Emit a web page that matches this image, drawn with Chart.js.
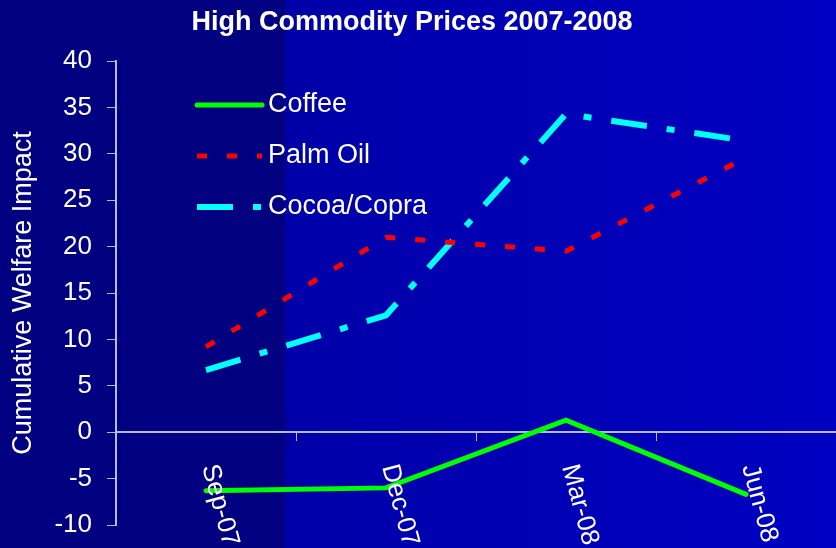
<!DOCTYPE html>
<html>
<head>
  <title>High Commodity Prices 2007-2008</title>
  <script src="https://cdn.jsdelivr.net/npm/chart.js"></script>
  <style>
    html, body { margin: 0; padding: 0; background: #000080; }
  </style>
</head>
<body>
  <canvas id="chart" width="836" height="548"></canvas>
  <script>
    // quarters and cumulative welfare impact per commodity
    const months = ['Sep-07', 'Dec-07', 'Mar-08', 'Jun-08'];
    const coffee = [-6.3, -6.0, 1.3, -6.7];
    const palmOil = [9.2, 21.0, 19.5, 29.6];
    const cocoaCopra = [6.7, 12.6, 34.3, 31.4];
    const yMin = -10, yMax = 40, yStep = 5;

    const font = "'Liberation Sans', Arial, sans-serif";
    const axisColor = '#b8b8e0';

    // two-tone blue background
    const backdrop = {
      id: 'backdrop',
      beforeDraw(chart) {
        const ctx = chart.ctx;
        ctx.save();
        ctx.fillStyle = '#000080';
        ctx.fillRect(0, 0, chart.width, chart.height);
        const g = ctx.createLinearGradient(285, 0, chart.width, 0);
        g.addColorStop(0, '#0000a8');
        g.addColorStop(1, '#0000c2');
        ctx.fillStyle = g;
        ctx.fillRect(285, 0, chart.width - 285, chart.height);
        ctx.restore();
      }
    };

    // title, slanted month labels and the legend box
    const decorations = {
      id: 'decorations',
      afterDatasetsDraw(chart) {
        const ctx = chart.ctx;
        const x = chart.scales.x;
        ctx.save();
        ctx.fillStyle = '#ffffff';

        ctx.font = 'bold 27px ' + font;
        ctx.textAlign = 'center';
        ctx.textBaseline = 'middle';
        ctx.fillText('High Commodity Prices 2007-2008', 412, 23);

        ctx.font = '26px ' + font;
        ctx.textAlign = 'left';
        months.forEach((m, i) => {
          ctx.save();
          ctx.translate(x.getPixelForValue(i) + 3, 465);
          ctx.rotate(75 * Math.PI / 180);
          ctx.fillText(m, 0, 0);
          ctx.restore();
        });

        ctx.font = '27px ' + font;
        chart.data.datasets.forEach((ds, i) => {
          const y = 105 + i * 51;
          ctx.save();
          ctx.strokeStyle = ds.borderColor;
          ctx.lineWidth = ds.borderWidth;
          ctx.lineCap = ds.borderCapStyle || 'butt';
          ctx.setLineDash(ds.borderDash || []);
          ctx.beginPath();
          ctx.moveTo(197, y);
          ctx.lineTo(262, y);
          ctx.stroke();
          ctx.restore();
          ctx.fillText(ds.label, 268, y);
        });
        ctx.restore();
      }
    };

    new Chart(document.getElementById('chart'), {
      type: 'line',
      data: {
        labels: months,
        datasets: [
          { label: 'Coffee', data: coffee, borderColor: '#00ff00', borderWidth: 5, borderCapStyle: 'round', pointRadius: 0, tension: 0 },
          { label: 'Palm Oil', data: palmOil, borderColor: '#ff0000', borderWidth: 5, borderDash: [10, 20], pointRadius: 0, tension: 0 },
          { label: 'Cocoa/Copra', data: cocoaCopra, borderColor: '#00ffff', borderWidth: 6, borderDash: [36, 20, 8, 20], pointRadius: 0, tension: 0 }
        ]
      },
      options: {
        responsive: false,
        animation: false,
        layout: { padding: { top: 61, bottom: 23, right: -4, left: 0 } },
        plugins: { legend: { display: false }, title: { display: false }, tooltip: { enabled: false } },
        scales: {
          x: {
            type: 'category',
            offset: true,
            position: { y: 0 },
            afterFit(scale) { scale.height = 0; },
            grid: { offset: true, drawOnChartArea: false, drawTicks: true, tickLength: 8, color: axisColor },
            border: { display: true, color: axisColor, width: 2 },
            ticks: { display: false }
          },
          y: {
            min: yMin,
            max: yMax,
            afterFit(scale) {
              scale.width = 116;
              scale.paddingTop = 0;
              scale.paddingBottom = 0;
            },
            grid: { drawOnChartArea: false, drawTicks: true, tickLength: 9, color: axisColor },
            border: { display: true, color: axisColor, width: 2 },
            ticks: { stepSize: yStep, color: '#ffffff', padding: 15, font: { family: font, size: 26 } },
            title: { display: true, text: 'Cumulative Welfare Impact', color: '#ffffff', padding: { top: 7, bottom: 0 }, font: { family: font, size: 27 } }
          }
        }
      },
      plugins: [backdrop, decorations]
    });
  </script>
</body>
</html>
